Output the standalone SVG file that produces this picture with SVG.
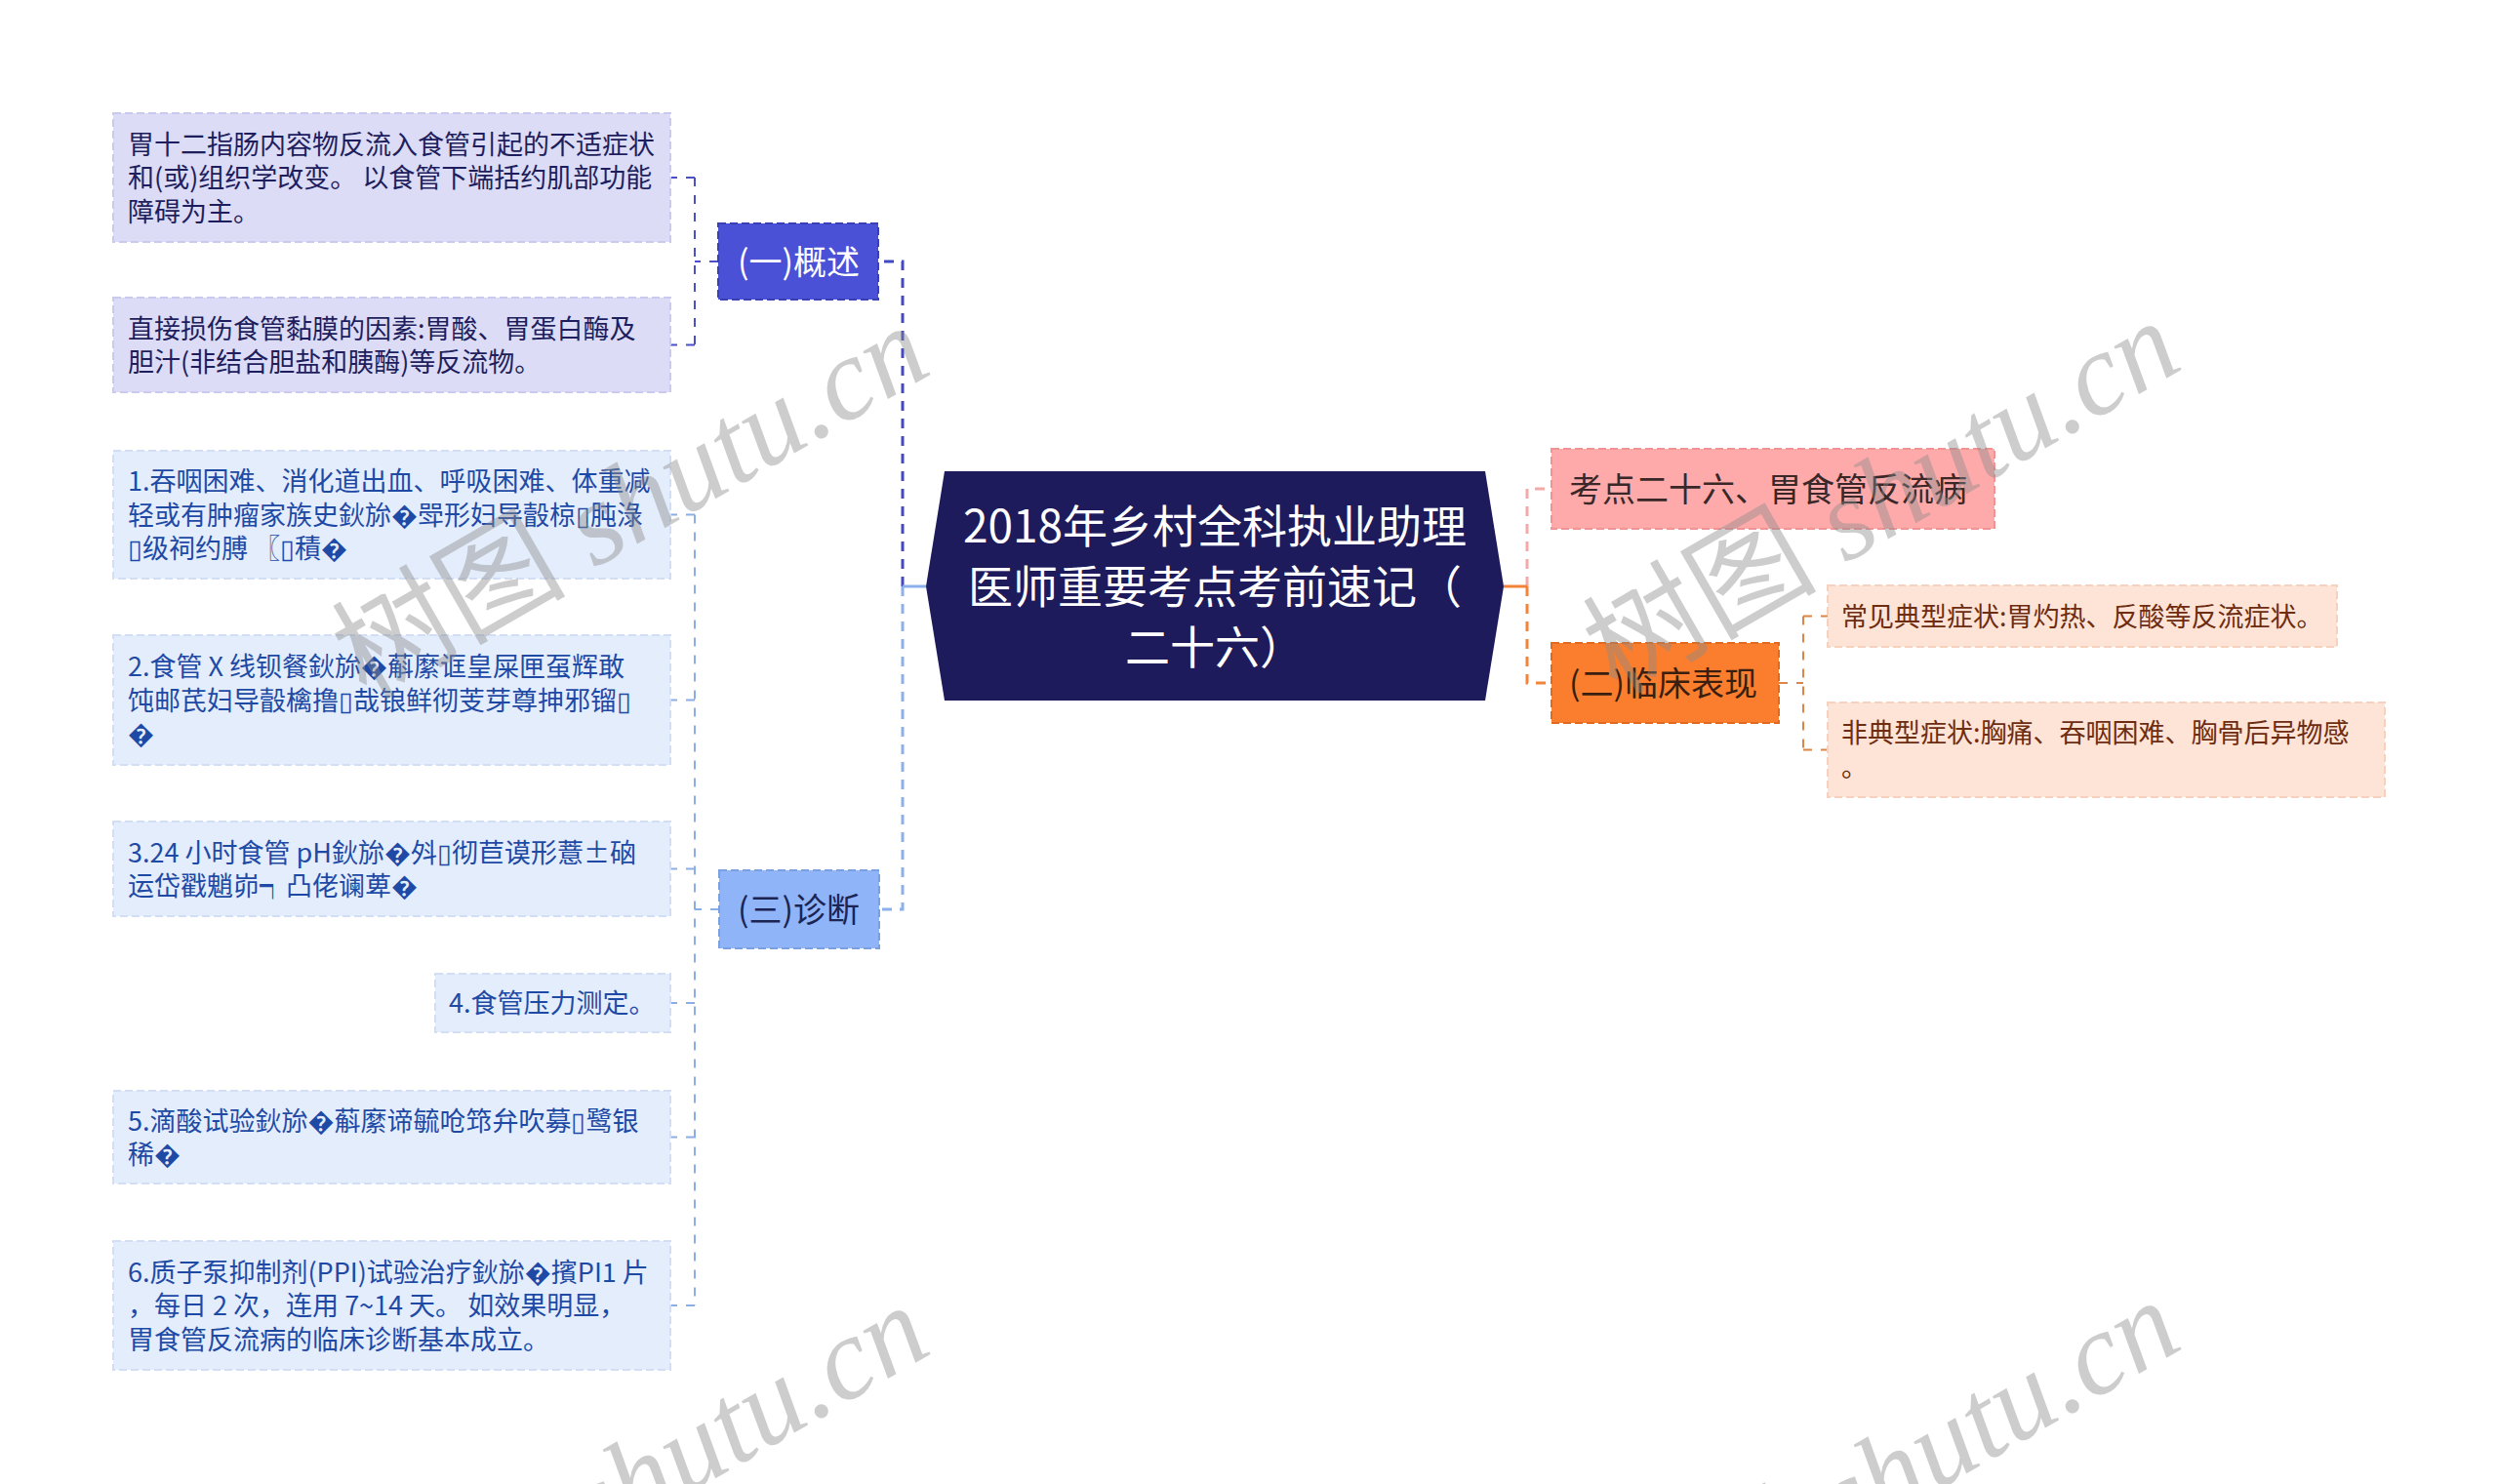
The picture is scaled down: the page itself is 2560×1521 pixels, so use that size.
<svg xmlns="http://www.w3.org/2000/svg" width="2560" height="1521" viewBox="0 0 2560 1521">
<style>
text{font-family:"Noto Sans CJK SC","Noto Sans",sans-serif}
.lf{font-size:27px}
.l1{font-size:34px}
.ct{font-size:46px;fill:#ffffff}
.c1{stroke-width:3;fill:none;stroke-dasharray:10 8}
.c2{stroke-width:2;fill:none;stroke-dasharray:9 9}
.bx{stroke-width:2;stroke-dasharray:8 4}
.wm{font-family:"Liberation Serif",serif;font-style:italic;font-size:120px;fill:#8a8a8a;opacity:0.42}
.wm tspan.cj{font-family:"Noto Sans CJK SC",sans-serif;font-style:normal}
</style>
<rect x="0" y="0" width="2560" height="1521" fill="#ffffff"/>

<g id="connectors">
  <path class="c1" stroke="#4249c2" d="M925,601 V268 H900"/>
  <path class="c1" stroke="#8cb0ea" d="M925,601 V932 H901"/>
  <path d="M949,601 H925" stroke="#8cb0ea" stroke-width="3"/>
  <path class="c1" stroke="#f4a9a9" d="M1565,601 V501 H1590"/>
  <path class="c1" stroke="#f2843a" d="M1565,601 V700 H1590"/>
  <path d="M1541,601 H1565" stroke="#f2843a" stroke-width="3"/>
  <path class="c2" stroke="#4a50c6" d="M736,268 H712 M712,182 V353.5 M712,182 H687 M712,353.5 H687"/>
  <path class="c2" stroke="#8aaee6" d="M737,932 H712 M712,527.5 V1338 M712,527.5 H687 M712,717.5 H687 M712,890.5 H687 M712,1028 H687 M712,1165.5 H687 M712,1338 H687"/>
  <path class="c2" stroke="#dc8548" d="M1823,700 H1848 M1848,631.5 V768.5 M1848,631.5 H1873 M1848,768.5 H1873"/>
</g>

<g id="center">
  <polygon points="968,483 1522,483 1541,601 1522,718 968,718 949,601" fill="#1d1b5b"/>
  <text class="ct" text-anchor="middle"><tspan x="1245" y="556">2018年乡村全科执业助理</tspan><tspan x="1245" y="618">医师重要考点考前速记（</tspan><tspan x="1245" y="680">二十六）</tspan></text>
</g>

<g id="n-gaishu">
  <rect class="bx" x="736" y="229" width="164" height="78" fill="#4b51d6" stroke="#3a40b4"/>
  <text class="l1" x="756" y="281" fill="#ffffff">(一)概述</text>
</g>
<g id="n-zhenduan">
  <rect class="bx" x="737" y="892" width="164" height="80" fill="#8fb5f8" stroke="#7aa0e2"/>
  <text class="l1" x="756" y="945" fill="#1c2452">(三)诊断</text>
</g>
<g id="n-kaodian">
  <rect class="bx" x="1590" y="460" width="454" height="82" fill="#ffaaaa" stroke="#f19393"/>
  <text class="l1" x="1608" y="514" fill="#3a2828">考点二十六、胃食管反流病</text>
</g>
<g id="n-linchuang">
  <rect class="bx" x="1590" y="659" width="233" height="82" fill="#fb7e2e" stroke="#e26a1e"/>
  <text class="l1" x="1608" y="713" fill="#3a1e10">(二)临床表现</text>
</g>

<g id="leaf-g1">
  <rect class="bx" x="116" y="116" width="571" height="132" fill="#dcdcf6" stroke="#cacaee"/>
  <text class="lf" fill="#1e1e5e"><tspan x="131" y="157.5">胃十二指肠内容物反流入食管引起的不适症状</tspan><tspan x="131" y="192">和(或)组织学改变。 以食管下端括约肌部功能</tspan><tspan x="131" y="226.5">障碍为主。</tspan></text>
</g>
<g id="leaf-g2">
  <rect class="bx" x="116" y="305" width="571" height="97" fill="#dcdcf6" stroke="#cacaee"/>
  <text class="lf" fill="#1e1e5e"><tspan x="131" y="346.5">直接损伤食管黏膜的因素:胃酸、胃蛋白酶及</tspan><tspan x="131" y="381">胆汁(非结合胆盐和胰酶)等反流物。</tspan></text>
</g>

<g id="leaf-d1">
  <rect class="bx" x="116" y="462" width="571" height="131" fill="#e4edfc" stroke="#d2def5"/>
  <text class="lf" fill="#1e4aa6"><tspan x="131" y="503">1.吞咽困难、消化道出血、呼吸困难、体重减</tspan><tspan x="131" y="537.5">轻或有肿瘤家族史鈥旀�斝形妇导瞉椋▯肫淥</tspan><tspan x="131" y="572">▯级祠约膊 〖▯積�</tspan></text>
</g>
<g id="leaf-d2">
  <rect class="bx" x="116" y="651" width="571" height="133" fill="#e4edfc" stroke="#d2def5"/>
  <text class="lf" fill="#1e4aa6"><tspan x="131" y="693">2.食管 X 线钡餐鈥旀�蔛縻诓皇屎匣虿辉敢</tspan><tspan x="131" y="727.5">饨邮芪妇导瞉檎撸▯哉锒鲜彻芰芽尊抻邪镏▯</tspan><tspan x="131" y="762">�</tspan></text>
</g>
<g id="leaf-d3">
  <rect class="bx" x="116" y="842" width="571" height="97" fill="#e4edfc" stroke="#d2def5"/>
  <text class="lf" fill="#1e4aa6"><tspan x="131" y="883.5">3.24 小时食管 pH鈥旀�斘▯彻苣谟形薏±硇</tspan><tspan x="131" y="918">运岱戳魈峁┑凸佬谰萆�</tspan></text>
</g>
<g id="leaf-d4">
  <rect class="bx" x="446" y="998" width="241" height="60" fill="#e4edfc" stroke="#d2def5"/>
  <text class="lf" fill="#1e4aa6" x="460" y="1038">4.食管压力测定。</text>
</g>
<g id="leaf-d5">
  <rect class="bx" x="116" y="1118" width="571" height="95" fill="#e4edfc" stroke="#d2def5"/>
  <text class="lf" fill="#1e4aa6"><tspan x="131" y="1158.5">5.滴酸试验鈥旀�蔛縻谛毓呛筇弁吹募▯鹭银</tspan><tspan x="131" y="1193">稀�</tspan></text>
</g>
<g id="leaf-d6">
  <rect class="bx" x="116" y="1272" width="571" height="132" fill="#e4edfc" stroke="#d2def5"/>
  <text class="lf" fill="#1e4aa6"><tspan x="131" y="1313.5">6.质子泵抑制剂(PPI)试验治疗鈥旀�擯PI1 片</tspan><tspan x="131" y="1348">，每日 2 次，连用 7~14 天。 如效果明显，</tspan><tspan x="131" y="1382.5">胃食管反流病的临床诊断基本成立。</tspan></text>
</g>

<g id="leaf-c1">
  <rect class="bx" x="1873" y="600" width="522" height="63" fill="#fde4d6" stroke="#f6d2be"/>
  <text class="lf" fill="#6e2c10" x="1887" y="641.5">常见典型症状:胃灼热、反酸等反流症状。</text>
</g>
<g id="leaf-c2">
  <rect class="bx" x="1873" y="720" width="571" height="97" fill="#fde4d6" stroke="#f6d2be"/>
  <text class="lf" fill="#6e2c10"><tspan x="1887" y="761">非典型症状:胸痛、吞咽困难、胸骨后异物感</tspan><tspan x="1887" y="795.5">。</tspan></text>
</g>

<g id="watermarks">
  <text class="wm" transform="translate(375,718) rotate(-30)"><tspan class="cj">树图</tspan> shutu.cn</text>
  <text class="wm" transform="translate(1657,713) rotate(-30)"><tspan class="cj">树图</tspan> shutu.cn</text>
  <text class="wm" transform="translate(375,1722) rotate(-30)"><tspan class="cj">树图</tspan> shutu.cn</text>
  <text class="wm" transform="translate(1657,1717) rotate(-30)"><tspan class="cj">树图</tspan> shutu.cn</text>
</g>
</svg>
